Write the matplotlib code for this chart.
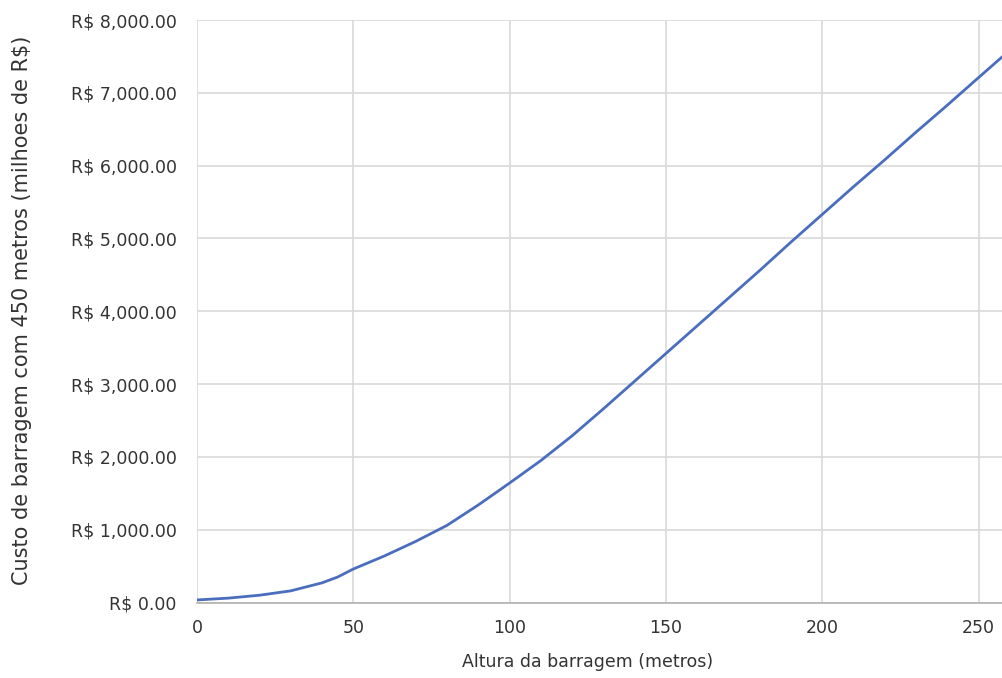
import matplotlib
matplotlib.use("Agg")
import matplotlib.pyplot as plt
from matplotlib.ticker import FuncFormatter, MultipleLocator

altura = [0, 10, 20, 30, 40, 45, 50, 60, 70, 80, 90, 100, 110, 120, 130, 140,
          150, 160, 170, 180, 190, 200, 210, 220, 230, 240, 250, 258]
custo = [35, 60, 100, 160, 270, 350, 460, 640, 840, 1060, 1340, 1641, 1950,
         2290, 2660, 3040, 3420, 3800, 4180, 4560, 4950, 5330, 5710, 6080,
         6460, 6830, 7209, 7510]

xlabel = "Altura da barragem (metros)"
ylabel = "Custo de barragem com 450 metros (milhoes de R$)"

plt.rcParams['font.family'] = ['DejaVu Sans']
W, H = 1002, 678
fig = plt.figure(figsize=(W / 100, H / 100), dpi=100)
ax = fig.add_axes([197 / W, 1 - 602.5 / H, 1 - 197 / W, (602.5 - 20) / H])

ax.plot(altura, custo, color='#4a6ebd', lw=2.0, solid_capstyle='round',
        solid_joinstyle='round')

ax.set_xlim(0, 257.5)
ax.set_ylim(0, 8000)
ax.xaxis.set_major_locator(MultipleLocator(50))
ax.yaxis.set_major_locator(MultipleLocator(1000))
ax.yaxis.set_major_formatter(FuncFormatter(lambda v, p: "R$ {:,.2f}".format(v)))
ax.grid(True, color='#d9d9d9', lw=1.2)
ax.set_axisbelow(True)
for s in ['top', 'right', 'left']:
    ax.spines[s].set_visible(False)
ax.spines['bottom'].set_color('#b0b0b0')
ax.spines['bottom'].set_linewidth(1.2)
ax.tick_params(axis='both', length=0, labelsize=12.5, colors='#333333')
ax.tick_params(axis='y', pad=14.5)
ax.tick_params(axis='x', pad=12)

fig.text(588 / W, 1 - 662 / H, xlabel, ha='center', va='center',
         fontsize=12.5, color='#333333')
fig.text(22 / W, 1 - 310 / H, ylabel, ha='center', va='center',
         rotation=90, fontsize=15, color='#333333')

fig.savefig('out.png', dpi=100, facecolor='white')
